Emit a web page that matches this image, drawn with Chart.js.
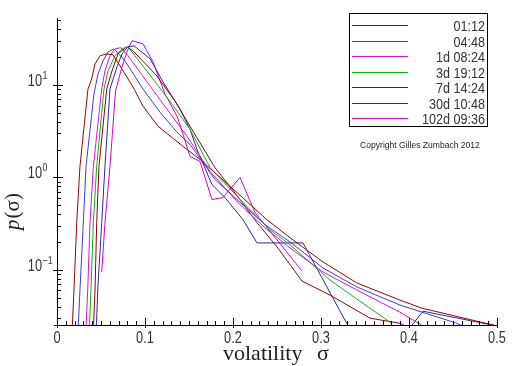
<!DOCTYPE html>
<html>
<head>
<meta charset="utf-8">
<script src="https://cdn.jsdelivr.net/npm/chart.js@4.4.1/dist/chart.umd.min.js"></script>
<style>
  html, body { margin: 0; padding: 0; background: #fff; }
  #wrap { width: 512px; height: 366px; }
</style>
</head>
<body>
<div id="wrap"><canvas id="chart" width="512" height="366"></canvas></div>
<script>
  'use strict';

  // Horizons (legend order) and line colours
  const horizons = ['01:12', '04:48', '1d 08:24', '3d 19:12', '7d 14:24', '30d 10:48', '102d 09:36'];
  const colors   = ['#a00000', '#3c3cdc', '#e010e0', '#10b010', '#900010', '#2828a8', '#d000e0'];

  // Volatility sigma and density p(sigma), one pair per horizon
  const sig_0112 = [0.0155, 0.0193, 0.0224, 0.0261, 0.0352, 0.0394, 0.0432, 0.0489, 0.0568, 0.0636, 0.0716, 0.0864, 0.0977, 0.1148, 0.1432, 0.1625, 0.2159, 0.2386, 0.2648, 0.3023, 0.3409, 0.3898, 0.4148, 0.5];
  const p_0112   = [0.01, 0.0606, 0.324, 1.32, 9.05, 11.6, 16.9, 20.7, 21.7, 21.2, 16.1, 9.5, 5.91, 3.58, 2.17, 1.57, 0.548, 0.349, 0.223, 0.122, 0.0722, 0.0472, 0.0386, 0.0248];

  const sig_0448 = [0.0222, 0.0261, 0.0299, 0.033, 0.042, 0.0466, 0.0523, 0.058, 0.0648, 0.0773, 0.0977, 0.117, 0.1364, 0.1511, 0.1795, 0.2136, 0.2364, 0.2648, 0.3023, 0.3409, 0.3898, 0.4545, 0.4693];
  const p_0448   = [0.01, 0.0606, 0.324, 1.32, 7.98, 13.2, 18.2, 22.8, 24.6, 18.2, 9.05, 5.09, 3.08, 2.28, 0.951, 0.484, 0.308, 0.201, 0.105, 0.0654, 0.0417, 0.0265, 0.0223];

  const sig_1d   = [0.0313, 0.0349, 0.0375, 0.0413, 0.0508, 0.0545, 0.0602, 0.0659, 0.0727, 0.0807, 0.1057, 0.125, 0.1477, 0.1739, 0.208, 0.2364, 0.2648, 0.3023, 0.3409, 0.3898, 0.4148, 0.4239];
  const p_1d     = [0.01, 0.0606, 0.324, 1.32, 9.05, 14.2, 20.7, 24.6, 25.3, 20.7, 9.75, 5.48, 2.79, 1.16, 0.509, 0.286, 0.173, 0.095, 0.0606, 0.0349, 0.0252, 0.0223];

  const sig_3d   = [0.0352, 0.0386, 0.0413, 0.0451, 0.0534, 0.058, 0.0659, 0.0739, 0.0795, 0.0852, 0.1091, 0.1307, 0.1511, 0.1739, 0.208, 0.242, 0.2648, 0.3102, 0.3409, 0.3784, 0.3852];
  const p_3d     = [0.01, 0.0606, 0.324, 1.32, 9.05, 14.2, 20.7, 24.6, 25.9, 22.8, 11.6, 6.21, 3.32, 1.28, 0.577, 0.272, 0.187, 0.0779, 0.0484, 0.0272, 0.0223];

  const sig_7d   = [0.0398, 0.0432, 0.0451, 0.0477, 0.0565, 0.0625, 0.0693, 0.0795, 0.0864, 0.1136, 0.1341, 0.1511, 0.1795, 0.208, 0.2273, 0.25, 0.2784, 0.3102, 0.3557, 0.3898, 0.3955, 0.40];
  const p_7d     = [0.01, 0.0606, 0.324, 1.32, 9.05, 14.2, 21.7, 25.9, 23.4, 12.5, 6.70, 3.58, 1.28, 0.577, 0.324, 0.178, 0.0759, 0.0535, 0.0301, 0.0265, 0.0248, 0.02];

  const sig_30d  = [0.0432, 0.0463, 0.0508, 0.0545, 0.0602, 0.0682, 0.0739, 0.0807, 0.0875, 0.1057, 0.1205, 0.1398, 0.1511, 0.1591, 0.1761, 0.1909, 0.2114, 0.2273, 0.2795, 0.3602, 0.4159, 0.5];
  const p_30d    = [0.01, 0.0606, 0.324, 1.32, 9.05, 15.7, 21.7, 25.9, 26.5, 19.2, 10.8, 5.48, 3.32, 2.01, 0.839, 0.607, 0.349, 0.196, 0.196, 0.0076, 0.0358, 0.0248];

  const sig_102d = [0.0508, 0.0545, 0.0602, 0.0665, 0.0739, 0.0795, 0.0852, 0.0977, 0.1091, 0.1227, 0.1364, 0.1432, 0.1511, 0.1625, 0.1761, 0.1886, 0.208, 0.225, 0.2784];
  const p_102d   = [0.095, 0.324, 1.32, 8.6, 15.7, 22.8, 30.1, 27.9, 17.8, 7.98, 4.60, 2.93, 1.69, 1.49, 0.577, 0.607, 1.0, 0.417, 0.0975];

  // Axis ranges and tick labels
  const xRange   = [0, 0.5];
  const yRange   = [0.0254, 53];
  const xTicks   = [0, 0.1, 0.2, 0.3, 0.4, 0.5];
  const yDecades = [-1, 0, 1];

  const seriesX = [sig_0112, sig_0448, sig_1d, sig_3d, sig_7d, sig_30d, sig_102d];
  const seriesY = [p_0112, p_0448, p_1d, p_3d, p_7d, p_30d, p_102d];

  const datasets = horizons.map((name, k) => ({
    label: name,
    data: seriesX[k].map((s, i) => ({ x: s, y: seriesY[k][i] })),
    borderColor: colors[k],
    backgroundColor: colors[k],
    borderWidth: 1,
    showLine: true,
    pointRadius: 0,
    fill: false,
    tension: 0
  }));

  // Text drawn with an optional horizontal squeeze (the original font is narrow)
  function text(ctx, str, x, y, font, align, sx) {
    ctx.save();
    ctx.font = font;
    ctx.translate(x, y);
    ctx.scale(sx || 1, 1);
    ctx.textAlign = align || 'left';
    ctx.textBaseline = 'alphabetic';
    ctx.fillText(str, 0, 0);
    ctx.restore();
  }

  const SANS  = '"Liberation Sans", Arial, sans-serif';
  const SERIF = '"Liberation Serif", "Times New Roman", serif';

  // Axes, inward ticks, labels, titles and the boxed legend
  const maplePlot = {
    id: 'maplePlot',
    afterDatasetsDraw(chart) {
      const { ctx, chartArea: a, scales: { x, y } } = chart;
      ctx.save();
      ctx.strokeStyle = '#000';
      ctx.lineWidth = 1;
      ctx.beginPath();

      // axis lines
      ctx.moveTo(a.left - 3, a.bottom + 0.5);
      ctx.lineTo(a.right + 0.5, a.bottom + 0.5);
      ctx.moveTo(a.left + 0.5, a.top);
      ctx.lineTo(a.left + 0.5, a.bottom + 3);

      // x ticks every 0.01, longer at 0.1
      for (let i = 0; i <= 50; i++) {
        const px = Math.round(x.getPixelForValue(i / 100)) + 0.5;
        const major = i % 10 === 0;
        ctx.moveTo(px, a.bottom - (major ? 7 : 4));
        ctx.lineTo(px, a.bottom + (major ? 3 : 0));
      }

      // y ticks: log minors, decades across the axis
      for (let k = -2; k <= 1; k++) {
        for (let m = 1; m <= 9; m++) {
          const v = m * Math.pow(10, k);
          if (v < yRange[0] || v > yRange[1]) continue;
          const py = Math.round(y.getPixelForValue(v)) + 0.5;
          if (m === 1) { ctx.moveTo(a.left - 4, py); ctx.lineTo(a.left + 6, py); }
          else         { ctx.moveTo(a.left, py);     ctx.lineTo(a.left + 4, py); }
        }
      }
      ctx.stroke();

      ctx.fillStyle = '#333';

      // x tick labels
      xTicks.forEach(t => {
        text(ctx, String(t), x.getPixelForValue(t), a.bottom + 18, '16px ' + SANS, 'center', 0.8);
      });

      // y tick labels 10^k
      yDecades.forEach(k => {
        const py = y.getPixelForValue(Math.pow(10, k));
        text(ctx, '10', 42, py + 1, '16px ' + SANS, 'right', 0.8);
        text(ctx, String(k).replace('-', '\u2212'), 42.5, py - 6, '11px ' + SANS, 'left', 0.8);
      });

      // x title
      ctx.fillStyle = '#222';
      text(ctx, 'volatility', 223, 360, '22px ' + SERIF, 'left');
      text(ctx, '\u03c3', 317, 360, '22px ' + SERIF, 'left');

      // y title, rotated
      ctx.save();
      ctx.translate(19, 212);
      ctx.rotate(-Math.PI / 2);
      ctx.font = 'italic 21px ' + SERIF;
      const wp = ctx.measureText('p').width;
      ctx.font = '21px ' + SERIF;
      const wr = ctx.measureText('(\u03c3)').width;
      const x0 = -(wp + wr) / 2;
      ctx.font = 'italic 21px ' + SERIF;
      ctx.fillText('p', x0, 0);
      ctx.font = '21px ' + SERIF;
      ctx.fillText('(\u03c3)', x0 + wp + 1, 0);
      ctx.restore();

      // legend box
      ctx.strokeStyle = '#000';
      ctx.strokeRect(349.5, 13.5, 138, 113);
      chart.data.datasets.forEach((ds, i) => {
        const ry = Math.round(25 + i * 15.5) + 0.5;
        ctx.strokeStyle = ds.borderColor;
        ctx.beginPath();
        ctx.moveTo(352, ry);
        ctx.lineTo(408, ry);
        ctx.stroke();
        ctx.fillStyle = '#333';
        text(ctx, ds.label, 485, ry + 5, '14px ' + SANS, 'right', 0.9);
      });

      // copyright note
      ctx.fillStyle = '#222';
      text(ctx, 'Copyright Gilles Zumbach 2012', 420, 148, '9px ' + SANS, 'center', 0.95);

      ctx.restore();
    }
  };

  new Chart(document.getElementById('chart'), {
    type: 'scatter',
    data: { datasets },
    options: {
      responsive: false,
      animation: false,
      layout: { padding: { left: 57, right: 15, top: 18, bottom: 41 } },
      plugins: { legend: { display: false }, tooltip: { enabled: false } },
      scales: {
        x: { type: 'linear', min: xRange[0], max: xRange[1], display: false },
        y: { type: 'logarithmic', min: yRange[0], max: yRange[1], display: false }
      }
    },
    plugins: [maplePlot]
  });
</script>
</body>
</html>
